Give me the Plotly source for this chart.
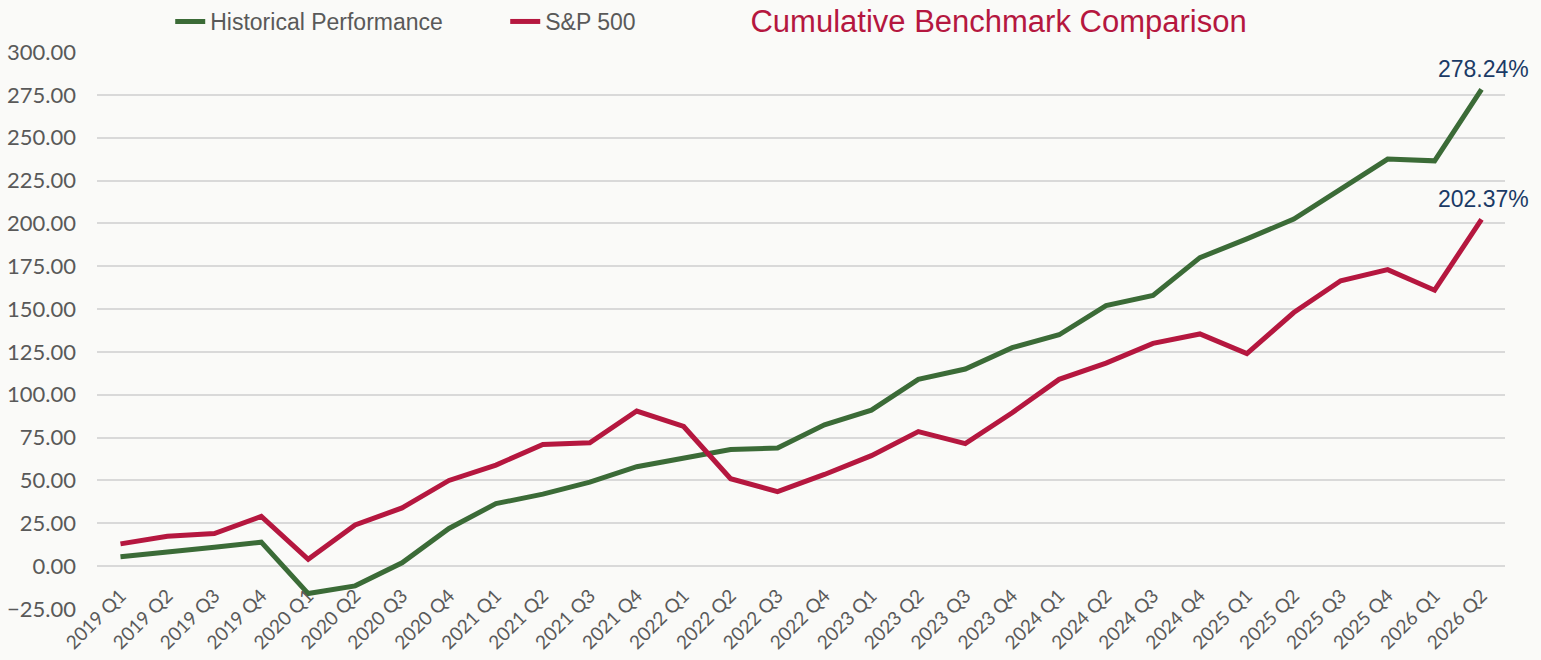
import plotly.graph_objects as go

quarters = [f"{y} Q{q}" for y in range(2019, 2027) for q in range(1, 5)][:30]
historical = [5.5, 8, 11, 14, -16, -11.5, 2, 22, 36.5, 42, 49, 58, 63, 68, 69, 82.5,
              91, 109, 115, 127.5, 135, 152, 158, 180, 191, 202.5, 220, 237.5, 236.5, 278.24]
sp500 = [13, 17.5, 19, 29, 4, 24, 34, 50, 59, 71, 72, 90.5, 81.5, 51, 43.5, 53.5,
         64.5, 78.5, 71.5, 89.5, 109, 118.5, 130, 135.5, 124, 148, 166.5, 173, 161, 202.37]
y_ticks = [-25 + 25 * i for i in range(14)]

GREEN = "#3b6b37"
RED = "#b5173f"
NAVY = "#1a3a66"

fig = go.Figure()
fig.add_trace(go.Scatter(x=quarters, y=historical, mode="lines", name="Historical Performance",
                         line=dict(color=GREEN, width=5)))
fig.add_trace(go.Scatter(x=quarters, y=sp500, mode="lines", name="S&P 500",
                         line=dict(color=RED, width=5)))

for series in (historical, sp500):
    fig.add_annotation(x=quarters[-1], y=series[-1], text=f"{series[-1]:.2f}%",
                       showarrow=False, yshift=20, xshift=2,
                       font=dict(family="Liberation Sans", size=23, color=NAVY))

fig.update_layout(
    width=1541, height=660,
    margin=dict(l=97, r=36, t=52, b=51),
    paper_bgcolor="#fafaf8", plot_bgcolor="#fafaf8",
    showlegend=True,
    legend=dict(orientation="h", x=0.052, xref="paper", y=1.0, yref="container",
                yanchor="top", font=dict(family="Liberation Sans", size=23, color="#595959"),
                bgcolor="rgba(0,0,0,0)", traceorder="normal",
                entrywidth=290, entrywidthmode="pixels"),
    title=dict(text="Cumulative Benchmark Comparison", x=0.487, xanchor="left",
               y=0.985, yanchor="top",
               font=dict(family="Liberation Sans", size=31, color=RED)),
    xaxis=dict(type="category", range=[-0.5, 29.5], tickangle=-45, showgrid=False,
               ticks="", tickfont=dict(family="Lato", size=19, color="#595959"),
               automargin=False, showline=False, zeroline=False, ticklabelstandoff=-29),
    yaxis=dict(range=[-25, 300], tickvals=y_ticks, tickformat=".2f",
               gridcolor="#d9d9d9", gridwidth=2, zeroline=False, showline=False,
               tickfont=dict(family="Lato", size=22, color="#595959"),
               automargin=False, ticklabelstandoff=20),
)

fig.write_html("out.html", config={"displayModeBar": False},
               post_script="document.body.style.margin='0';document.body.style.overflow='hidden';")
